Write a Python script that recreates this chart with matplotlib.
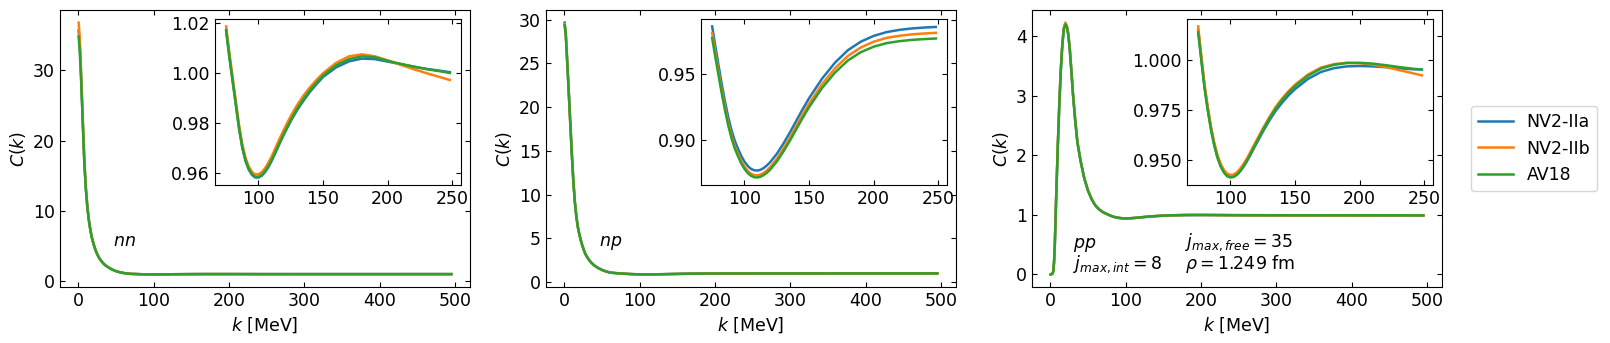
import matplotlib
matplotlib.use("Agg")
import matplotlib.pyplot as plt

# ---------------- data ----------------
k = [0.5, 2, 3, 4, 5, 6, 8, 10, 12, 14, 16, 18, 20, 22, 24, 26, 28, 30, 33, 36,
     40, 45, 50, 55, 60, 65, 70,
     75, 77.5, 80, 82.5, 85, 87.5, 90, 92.5, 95, 97.5, 100, 102.5, 105, 107.5,
     110, 112.5, 115, 117.5, 120, 125, 130, 135, 140, 145, 150,
     160, 170, 180, 190, 200, 210, 220, 230, 240, 248,
     260, 280, 300, 330, 360, 400, 450, 495]

series_names = ["NV2-IIa", "NV2-IIb", "AV18"]
colors = ["#1f77b4", "#ff7f0e", "#2ca02c"]

# nn
nn_IIa = [35.7, 33.5, 31.2, 28.5, 25.6, 22.7, 17.1, 13.3, 10.65, 8.75, 7.32, 6.22, 5.41, 4.71, 4.11, 3.655, 3.255, 2.955, 2.555, 2.255,
          1.952, 1.652, 1.422, 1.271, 1.161, 1.081, 1.036,
          1.0167, 1.0062, 0.9967, 0.9872, 0.9777, 0.9702, 0.9649, 0.9615, 0.9594, 0.9584, 0.9584, 0.9591, 0.9605, 0.9624,
          0.9648, 0.9676, 0.9704, 0.9732, 0.9759, 0.9809, 0.9853, 0.9891, 0.9926, 0.9956, 0.9984,
          1.0022, 1.0046, 1.0057, 1.0055, 1.0045, 1.0035, 1.0025, 1.0016, 1.0009, 1.0003,
          0.9998, 0.9993, 0.9992, 0.9993, 0.9995, 0.9997, 0.9999, 1.0]
nn_IIb = [36.8, 34.6, 32.0, 29.0, 26.0, 23.0, 17.3, 13.4, 10.7, 8.8, 7.35, 6.25, 5.43, 4.72, 4.12, 3.66, 3.26, 2.96, 2.56, 2.26,
          1.955, 1.655, 1.425, 1.273, 1.163, 1.082, 1.037,
          1.0185, 1.0080, 0.9983, 0.9887, 0.9792, 0.9716, 0.9662, 0.9627, 0.9606, 0.9596, 0.9597, 0.9605, 0.9620, 0.9641,
          0.9666, 0.9694, 0.9723, 0.9751, 0.9778, 0.9829, 0.9873, 0.9911, 0.9944, 0.9973, 0.9999,
          1.0040, 1.0066, 1.0074, 1.0066, 1.0050, 1.0032, 1.0015, 0.9999, 0.9984, 0.9972,
          0.9962, 0.9955, 0.9958, 0.9965, 0.9975, 0.9985, 0.9992, 0.9995]
nn_AV18 = [34.8, 32.6, 30.5, 28.0, 25.3, 22.5, 17.0, 13.2, 10.6, 8.7, 7.3, 6.2, 5.4, 4.7, 4.1, 3.65, 3.25, 2.95, 2.55, 2.25,
           1.95, 1.65, 1.42, 1.27, 1.16, 1.08, 1.035,
           1.0170, 1.0065, 0.9970, 0.9875, 0.9780, 0.9705, 0.9652, 0.9618, 0.9597, 0.9587, 0.9587, 0.9594, 0.9608, 0.9627,
           0.9651, 0.9679, 0.9707, 0.9735, 0.9762, 0.9813, 0.9858, 0.9897, 0.9932, 0.9962, 0.9990,
           1.0030, 1.0055, 1.0066, 1.0062, 1.0048, 1.0036, 1.0025, 1.0015, 1.0007, 1.0000,
           0.9995, 0.9990, 0.9990, 0.9992, 0.9994, 0.9996, 0.9998, 1.0]

# np
np_IIa = [29.65, 28.45, 26.8, 25.15, 23.42, 21.7, 18.17, 14.75, 11.64, 9.23, 7.52, 6.32, 5.47, 4.76, 4.16, 3.66, 3.21, 2.91, 2.51, 2.21,
          1.89, 1.61, 1.39, 1.229, 1.108, 1.048, 1.014,
          0.9864, 0.9710, 0.9563, 0.9420, 0.9287, 0.9170, 0.9072, 0.8993, 0.8932, 0.8878, 0.8835, 0.8802, 0.8780, 0.8769,
          0.8767, 0.8773, 0.8787, 0.8807, 0.8832, 0.8894, 0.8970, 0.9054, 0.9144, 0.9234, 0.9318,
          0.9466, 0.9588, 0.9683, 0.9748, 0.9792, 0.9821, 0.9838, 0.9849, 0.9856, 0.9860,
          0.9866, 0.9876, 0.9884, 0.9896, 0.9908, 0.9925, 0.9942, 0.9955]
np_IIb = [29.5, 28.3, 26.7, 25.07, 23.36, 21.65, 18.13, 14.72, 11.62, 9.21, 7.51, 6.31, 5.46, 4.755, 4.155, 3.655, 3.205, 2.905, 2.505, 2.205,
          1.885, 1.605, 1.385, 1.224, 1.104, 1.044, 1.009,
          0.9813, 0.9660, 0.9516, 0.9375, 0.9244, 0.9128, 0.9031, 0.8953, 0.8893, 0.8839, 0.8797, 0.8764, 0.8743, 0.8732,
          0.8730, 0.8737, 0.8750, 0.8770, 0.8794, 0.8856, 0.8931, 0.9014, 0.9104, 0.9193, 0.9276,
          0.9424, 0.9545, 0.9639, 0.9704, 0.9748, 0.9777, 0.9793, 0.9804, 0.9811, 0.9815,
          0.9821, 0.9832, 0.9841, 0.9855, 0.9869, 0.9888, 0.9907, 0.9921]
np_AV18 = [29.35, 28.2, 26.6, 25.0, 23.3, 21.6, 18.1, 14.7, 11.6, 9.2, 7.5, 6.3, 5.45, 4.75, 4.15, 3.65, 3.2, 2.9, 2.5, 2.2,
           1.88, 1.6, 1.38, 1.22, 1.1, 1.04, 1.005,
           0.9775, 0.9628, 0.9488, 0.9350, 0.9222, 0.9108, 0.9012, 0.8935, 0.8875, 0.8822, 0.8780, 0.8748, 0.8727, 0.8716,
           0.8714, 0.8720, 0.8733, 0.8752, 0.8776, 0.8836, 0.8910, 0.8992, 0.9080, 0.9168, 0.9250,
           0.9395, 0.9513, 0.9605, 0.9668, 0.9710, 0.9737, 0.9752, 0.9762, 0.9768, 0.9772,
           0.9778, 0.9790, 0.9800, 0.9815, 0.9830, 0.9850, 0.9870, 0.9885]

# pp
pp_IIa = [0.0, 0.004, 0.015, 0.05, 0.2, 0.48, 1.35, 2.15, 2.85, 3.43, 3.85, 4.12, 4.2, 4.16, 4.02, 3.76, 3.42, 3.05, 2.6, 2.22,
          1.92, 1.62, 1.41, 1.26, 1.155, 1.09, 1.045,
          1.0152, 1.0005, 0.9863, 0.9751, 0.9653, 0.9574, 0.9512, 0.9468, 0.9438, 0.9419, 0.9413, 0.9415, 0.9425, 0.9442,
          0.9464, 0.9490, 0.9519, 0.9550, 0.9580, 0.9640, 0.9696, 0.9746, 0.9787, 0.9824, 0.9855,
          0.9906, 0.9941, 0.9960, 0.9969, 0.9971, 0.9969, 0.9965, 0.9960, 0.9955, 0.9953,
          0.9950, 0.9945, 0.9940, 0.9935, 0.9930, 0.9926, 0.9921, 0.9916]
pp_IIb = [0.0, 0.004, 0.016, 0.052, 0.205, 0.49, 1.37, 2.18, 2.88, 3.46, 3.88, 4.15, 4.23, 4.18, 4.04, 3.78, 3.43, 3.06, 2.61, 2.225,
          1.925, 1.623, 1.413, 1.262, 1.157, 1.092, 1.047,
          1.0170, 1.0020, 0.9875, 0.9763, 0.9664, 0.9585, 0.9522, 0.9477, 0.9447, 0.9429, 0.9423, 0.9425, 0.9436, 0.9454,
          0.9477, 0.9503, 0.9533, 0.9564, 0.9595, 0.9656, 0.9713, 0.9765, 0.9808, 0.9845, 0.9877,
          0.9928, 0.9963, 0.9980, 0.9987, 0.9985, 0.9978, 0.9966, 0.9951, 0.9936, 0.9924,
          0.9912, 0.9905, 0.9903, 0.9905, 0.9908, 0.9910, 0.9910, 0.9908]
pp_AV18 = [0.0, 0.004, 0.015, 0.05, 0.2, 0.48, 1.35, 2.15, 2.85, 3.43, 3.85, 4.12, 4.2, 4.16, 4.02, 3.76, 3.42, 3.05, 2.6, 2.22,
           1.92, 1.62, 1.41, 1.26, 1.155, 1.09, 1.045,
           1.0140, 0.9995, 0.9855, 0.9745, 0.9648, 0.9570, 0.9508, 0.9464, 0.9434, 0.9416, 0.9410, 0.9413, 0.9424, 0.9442,
           0.9465, 0.9492, 0.9522, 0.9554, 0.9585, 0.9647, 0.9705, 0.9757, 0.9800, 0.9838, 0.9870,
           0.9922, 0.9958, 0.9977, 0.9986, 0.9987, 0.9983, 0.9975, 0.9966, 0.9958, 0.9953,
           0.9948, 0.9942, 0.9938, 0.9933, 0.9929, 0.9925, 0.9920, 0.9915]

inset_k_range = (75, 248)
panel_labels = ["$nn$", "$np$", "$pp$"]
extra_left = "$j_{max,int} = 8$"
extra_right = ["$j_{max,free} = 35$", r"$\rho = 1.249$ fm"]

# ---------------- plot ----------------
plt.rcParams["font.size"] = 12.5
plt.rcParams["font.family"] = ["DejaVu Sans"]

fig = plt.figure(figsize=(16.1, 3.43), dpi=100)
W, H = 1610.0, 343.0
lefts = [60, 546, 1032]
aw = 410
bottom = (H - 287) / H
ah = 277 / H

panels = [
    (nn_IIa, nn_IIb, nn_AV18),
    (np_IIa, np_IIb, np_AV18),
    (pp_IIa, pp_IIb, pp_AV18),
]

lw = 1.8
i0 = k.index(inset_k_range[0])
i1 = k.index(inset_k_range[1]) + 1

axes = []
for p, (vals, lab) in enumerate(zip(panels, panel_labels)):
    ax = fig.add_axes([lefts[p] / W, bottom, aw / W, ah])
    axes.append(ax)
    for v, name, c in zip(vals, series_names, colors):
        ax.plot(k, v, color=c, lw=lw, label=name)
    ax.set_xlabel("$k$ [MeV]")
    ax.set_ylabel("$C(k)$")
    ax.set_xticks([0, 100, 200, 300, 400, 500])
    ax.tick_params(direction="in", top=True, right=True)

    ins = ax.inset_axes([0.378, 0.368, 0.6, 0.6])
    for v, name, c in zip(vals, series_names, colors):
        ins.plot(k[i0:i1], v[i0:i1], color=c, lw=lw)
    ins.set_xticks([100, 150, 200, 250])
    ins.tick_params(direction="in", top=True, right=True)

    if p < 2:
        ax.text(0.13, 0.149, lab, transform=ax.transAxes)
    else:
        ax.text(0.10, 0.142, lab, transform=ax.transAxes)
        ax.text(0.10, 0.066, extra_left, transform=ax.transAxes)
        ax.text(0.374, 0.145, extra_right[0], transform=ax.transAxes)
        ax.text(0.374, 0.066, extra_right[1], transform=ax.transAxes)

axes[0].set_yticks([0, 10, 20, 30])
axes[2].legend(loc="center left", bbox_to_anchor=(1.05, 0.5))

fig.savefig("out.png", dpi=100)
